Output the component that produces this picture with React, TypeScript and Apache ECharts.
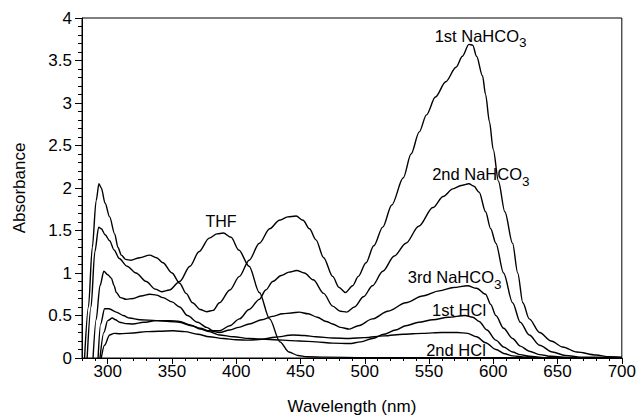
import React, { useEffect, useRef } from "react";
import * as echarts from "echarts";

const xTickValues = [300, 350, 400, 450, 500, 550, 600, 650, 700];

const thf: number[][] = [
  [284, 0], [287, 0.6], [290, 1.25], [293, 1.54], [295, 1.52], [298, 1.45], [301.5, 1.38],
  [305, 1.27], [309, 1.17], [315, 1.08], [322, 1.0], [330, 0.9], [337, 0.81], [342, 0.78],
  [348, 0.8], [356, 0.9], [364, 1.08], [371, 1.25], [379, 1.41], [385, 1.46], [390, 1.47],
  [396, 1.42], [402, 1.27], [410, 1.08], [418, 0.77], [426, 0.46], [434, 0.19], [441, 0.07],
  [448, 0.03], [455, 0.015], [470, 0.01], [500, 0.005], [600, 0.005], [700, 0.005],
];

const naHCO3First: number[][] = [
  [282, 0], [285, 0.6], [288, 1.3], [291, 1.85], [293.2, 2.05], [295, 2.0], [298, 1.82],
  [301.5, 1.66], [305.4, 1.46], [308, 1.3], [310.6, 1.21], [314, 1.16], [318, 1.15],
  [325, 1.18], [332.6, 1.21], [338, 1.18], [343, 1.12], [350, 1.0], [356, 0.88], [361, 0.76],
  [366, 0.65], [372, 0.57], [377, 0.545], [382, 0.56], [387, 0.65], [395, 0.8], [402.5, 0.96],
  [410, 1.15], [418, 1.35], [426, 1.52], [433.6, 1.62], [440, 1.66], [446.6, 1.67], [452, 1.62],
  [457, 1.52], [462, 1.39], [468, 1.18], [475, 0.96], [480, 0.83], [485, 0.77], [490.6, 0.85],
  [495, 0.96], [501, 1.12], [507, 1.32], [514, 1.54], [521, 1.8], [530, 2.12], [536, 2.4],
  [542.4, 2.66], [548, 2.86], [555, 3.07], [563, 3.25], [571, 3.42], [576, 3.55], [581, 3.69],
  [584, 3.68], [587, 3.55], [591.6, 3.32], [594, 3.1], [597, 2.78], [600, 2.45], [604, 2.08],
  [609, 1.72], [615, 1.35], [619, 1.0], [623, 0.65], [628, 0.46], [636, 0.3], [645, 0.2],
  [654, 0.13], [665, 0.07], [680, 0.035], [690, 0.015], [700, 0.01],
];

const naHCO3Second: number[][] = [
  [288.6, 0], [291, 0.45], [294, 0.85], [297, 1.02], [300, 0.98], [302.8, 0.94], [305, 0.85],
  [306.7, 0.77], [310, 0.71], [314.5, 0.69], [320, 0.7], [326, 0.73], [332.6, 0.75],
  [338, 0.74], [343, 0.71], [350, 0.66], [356, 0.6], [362, 0.5], [370, 0.42], [377, 0.36],
  [382, 0.32], [387, 0.32], [395, 0.38], [402.5, 0.46], [410, 0.57], [418, 0.69], [423, 0.8],
  [428.4, 0.9], [435, 0.97], [441, 1.01], [447, 1.03], [453, 1.0], [460, 0.92], [468, 0.76],
  [475, 0.61], [481, 0.55], [486, 0.54], [492, 0.6], [499, 0.72], [506, 0.85], [514, 1.02],
  [523, 1.2], [532, 1.35], [542, 1.55], [553, 1.77], [561, 1.9], [568.5, 1.99], [575, 2.03],
  [581, 2.05], [585, 2.02], [589, 1.95], [594, 1.72], [598, 1.52], [602, 1.35], [608, 1.0],
  [615, 0.65], [621, 0.42], [628, 0.27], [636, 0.15], [646, 0.07], [656, 0.03], [668, 0.01],
  [700, 0.005],
];

const naHCO3Third: number[][] = [
  [292.5, 0], [294.5, 0.4], [297.6, 0.58], [301, 0.58], [306.7, 0.54], [312, 0.5], [317, 0.47],
  [325, 0.45], [337.8, 0.44], [348, 0.43], [356, 0.42], [365, 0.38], [372, 0.35], [379, 0.32],
  [387, 0.3], [395, 0.33], [402, 0.36], [410, 0.4], [420, 0.45], [428, 0.49], [436, 0.52],
  [443, 0.53], [449, 0.54], [456, 0.52], [463, 0.48], [470, 0.43], [475, 0.4], [481, 0.36],
  [488, 0.34], [495, 0.38], [506, 0.46], [518, 0.55], [532, 0.65], [545, 0.73], [558, 0.79],
  [569, 0.83], [580, 0.85], [587, 0.82], [594, 0.75], [598, 0.63], [602, 0.5], [608, 0.35],
  [615, 0.23], [621, 0.14], [628, 0.08], [636, 0.04], [645, 0.02], [660, 0.005], [700, 0],
];

const hclFirst: number[][] = [
  [294, 0], [297, 0.3], [300, 0.44], [303.6, 0.47], [306, 0.45], [309.3, 0.42], [314, 0.405],
  [319.6, 0.4], [328, 0.42], [337.8, 0.44], [348, 0.44], [356, 0.43], [364, 0.39], [372, 0.34],
  [379, 0.31], [387, 0.27], [398, 0.25], [410, 0.23], [423, 0.22], [436, 0.21], [449, 0.2],
  [462, 0.19], [475, 0.175], [488, 0.17], [497, 0.19], [506, 0.23], [515, 0.28], [524, 0.33],
  [532, 0.38], [542, 0.42], [553, 0.45], [565, 0.48], [578, 0.5], [584, 0.48], [589, 0.43],
  [595, 0.33], [602, 0.21], [608, 0.13], [615, 0.07], [621, 0.04], [628, 0.02], [640, 0.005],
  [700, 0],
];

const hclSecond: number[][] = [
  [295, 0], [297.5, 0.15], [301.5, 0.27], [305, 0.29], [309.3, 0.285], [320, 0.295],
  [330, 0.31], [340, 0.315], [351, 0.32], [360, 0.31], [370, 0.28], [379, 0.25], [390, 0.23],
  [400, 0.215], [410, 0.21], [420, 0.22], [430, 0.245], [444, 0.27], [453, 0.265], [462, 0.25],
  [475, 0.235], [488, 0.23], [500, 0.24], [515, 0.26], [530, 0.28], [545, 0.29], [560, 0.3],
  [572, 0.3], [580, 0.29], [587, 0.25], [594, 0.18], [602, 0.1], [609, 0.05], [615, 0.025],
  [625, 0.01], [640, 0], [700, 0],
];

const FONT = "'Liberation Sans', Arial, Helvetica, sans-serif";

export default function App() {
  const ref = useRef<HTMLDivElement>(null);
  useEffect(() => {
    const chart = echarts.init(ref.current!, null, { renderer: "svg" });
    const mk = (name: string, data: number[][]) => ({
      type: "line",
      name,
      data,
      symbol: "none",
      showSymbol: false,
      smooth: 0.3,
      smoothMonotone: "x",
      silent: true,
      xAxisIndex: 0,
      yAxisIndex: 0,
      lineStyle: { color: "#000", width: 1.4 },
    });
    const txt = (x: number, y: number, text: string, align: string, size = 16.5) => ({
      type: "text",
      x,
      y,
      silent: true,
      style: {
        text,
        fill: "#000",
        font: `${size}px ${FONT}`,
        textAlign: align,
        textVerticalAlign: "middle",
      },
    });
    chart.setOption({
      animation: false,
      backgroundColor: "#fff",
      grid: {
        left: 82,
        right: 16,
        top: 18,
        bottom: 57,
        show: true,
        borderColor: "#000",
        borderWidth: 1,
        backgroundColor: "transparent",
      },
      xAxis: [
        {
          type: "value",
          min: 280,
          max: 700,
          position: "bottom",
          axisLine: { show: true, lineStyle: { color: "#000", width: 1 } },
          axisTick: { show: true, length: 6, customValues: xTickValues, lineStyle: { color: "#000" } },
          axisLabel: { customValues: xTickValues, color: "#000", fontSize: 17, fontFamily: FONT, margin: 5 },
          splitLine: { show: false },
          name: "Wavelength (nm)",
          nameLocation: "middle",
          nameGap: 40,
          nameTextStyle: { color: "#000", fontSize: 17, fontFamily: FONT },
        },
        {
          type: "value",
          min: 280,
          max: 700,
          interval: 10,
          position: "bottom",
          axisLine: { show: false },
          axisTick: { show: true, length: 3, lineStyle: { color: "#000" } },
          axisLabel: { show: false },
          splitLine: { show: false },
        },
      ],
      yAxis: {
        type: "value",
        min: 0,
        max: 4,
        interval: 0.5,
        axisLine: { show: true, lineStyle: { color: "#000", width: 1 } },
        axisTick: { show: true, length: 7, lineStyle: { color: "#000" } },
        minorTick: { show: true, splitNumber: 5, length: 4, lineStyle: { color: "#000" } },
        axisLabel: { color: "#000", fontSize: 17, fontFamily: FONT, margin: 10 },
        splitLine: { show: false },
        name: "Absorbance",
        nameLocation: "middle",
        nameGap: 54,
        nameRotate: 90,
        nameTextStyle: { color: "#000", fontSize: 17, fontFamily: FONT },
      },
      series: [
        mk("THF", thf),
        mk("1st NaHCO3", naHCO3First),
        mk("2nd NaHCO3", naHCO3Second),
        mk("3rd NaHCO3", naHCO3Third),
        mk("1st HCl", hclFirst),
        mk("2nd HCl", hclSecond),
      ],
      graphic: [
        txt(519, 36, "1st NaHCO", "right"),
        txt(519, 42, "3", "left", 13.5),
        txt(522, 174, "2nd NaHCO", "right"),
        txt(522, 181, "3", "left", 13.5),
        txt(494, 277, "3rd NaHCO", "right"),
        txt(494, 284, "3", "left", 13.5),
        txt(459, 310, "1st HCl", "center"),
        txt(456, 350, "2nd HCl", "center"),
        txt(221, 221, "THF", "center", 16),
      ],
    });
    return () => chart.dispose();
  }, []);
  return (
    <div
      ref={ref}
      style={{ width: 639, height: 420, position: "fixed", left: 0, top: 0, background: "#fff" }}
    />
  );
}
